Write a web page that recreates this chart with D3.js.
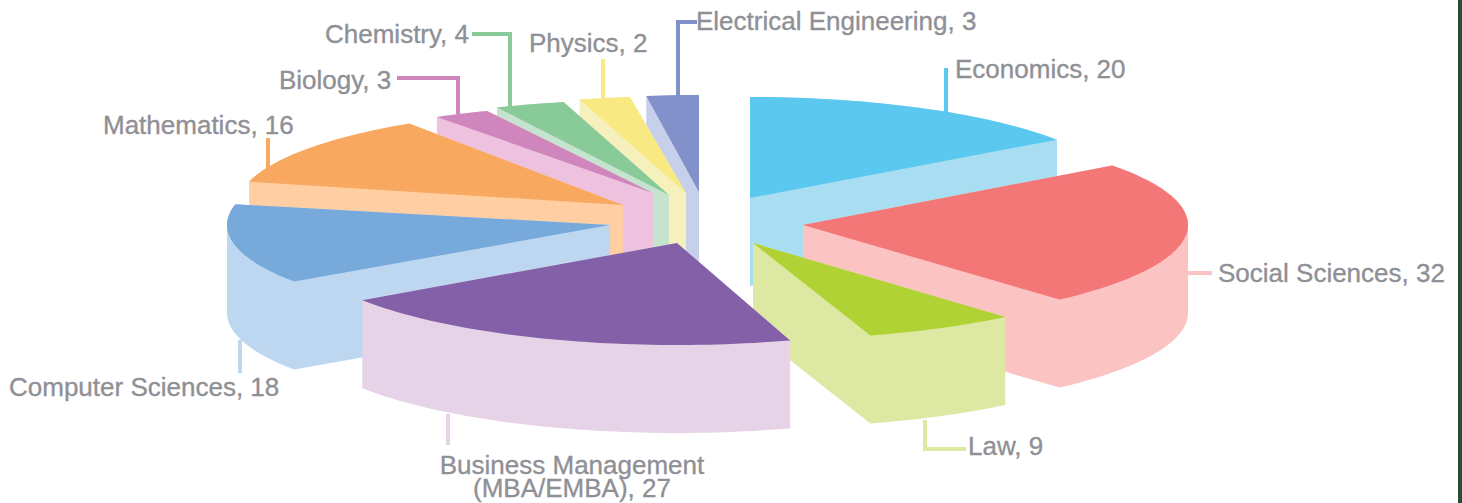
<!DOCTYPE html>
<html><head><meta charset="utf-8">
<script src="https://cdn.jsdelivr.net/npm/d3@7/dist/d3.min.js"></script>
<style>html,body{margin:0;padding:0;background:#fff;overflow:hidden}svg{display:block}</style>
</head><body>
<svg id="c" width="1462" height="503"></svg>
<script>
// ---- data ----
const categories = ["Economics","Social Sciences","Law","Business Management (MBA/EMBA)","Computer Sciences","Mathematics","Biology","Chemistry","Physics","Electrical Engineering"];
const values = [20,32,9,27,18,16,3,4,2,3];
const topColors = ["#5BC8F0","#F47777","#B0D235","#8360A8","#78A9DB","#F9A85F","#CE86BC","#88CB98","#F9E983","#8291C9"];
const wallColors = ["#A9DEF2","#FCC3C3","#DDE8A3","#E6D3E7","#BED7F0","#FFCFA3","#EEC2DF","#C5E3CF","#F6F0BD","#C6D0EA"];

// ---- layout: how far each slice is pulled from the pie centre, its projected radii and small angle corrections ----
const centre = {x:700, y:220}, depth = 88;
const pullX = [50,103,53,-23,-90,-77,-47,-31,-14,-1];
const pullY = [-22,5,23,23,5,-15,-27,-25,-27,-28];
const radX = [376,385,390,380,383,385,405,420,400,376];
const radY = [101,100,97,102,100,98,90,96,97,97];
const startNudgeDeg = [0,-0.3,0,-1.2,-0.9,-1,0,0,-2,0];
const endNudgeDeg = [1,-1.5,-1.4,-0.5,-2.8,-1.5,0,-1.1,0,0];
const labelLines = [["Economics, 20"],["Social Sciences, 32"],["Law, 9"],["Business Management","(MBA/EMBA), 27"],["Computer Sciences, 18"],["Mathematics, 16"],["Biology, 3"],["Chemistry, 4"],["Physics, 2"],["Electrical Engineering, 3"]];
const labelX = [955,1218,968,572,9,103,279,325,529,696];
const labelY = [77.5,282,455,474,396,133.5,88.5,42.5,51.5,30];
const labelLineStep = 23;
const labelAnchor = ["start","start","start","middle","start","start","start","start","start","start"];
const leaders = [
  [[946,68],[946,112]],
  [[1186,273],[1212,273]],
  [[925,420],[925,449],[966,449]],
  [[448,414],[448,445]],
  [[240,340],[240,373]],
  [[268,138],[268,172]],
  [[397,78],[458,78],[458,114]],
  [[472,34],[510,34],[510,107]],
  [[603,59],[603,98]],
  [[697,22],[678,22],[678,96]]
];
const leaderUsesWall = [false,true,true,true,true,false,false,false,false,false];

const svg = d3.select("#c");
const pie = d3.pie().value(d=>d).sort(null);
const slices = pie(values);
const rad = Math.PI/180;

const line = d3.line();
const paint = [0,9,8,7,6,5,4,1,2,3];
paint.forEach(i=>{
  const s = slices[i];
  const a0 = s.startAngle+startNudgeDeg[i]*rad, a1 = s.endAngle+endNudgeDeg[i]*rad;
  const ax = centre.x+pullX[i], ay = centre.y+pullY[i];
  const toPt = a=>[ax+radX[i]*Math.sin(a), ay-radY[i]*Math.cos(a)];
  const n = Math.max(6,Math.ceil((a1-a0)*40));
  const arcPts = d3.range(n+1).map(k=>toPt(a0+(a1-a0)*k/n));
  const top = [[ax,ay],...arcPts];
  const hull = d3.polygonHull(top.concat(top.map(p=>[p[0],p[1]+depth])));
  svg.append("path").attr("d",line(hull)+"Z").attr("fill",wallColors[i]);
  svg.append("path").attr("d",line(top)+"Z").attr("fill",topColors[i]);
});

leaders.forEach((pts,i)=>{
  svg.append("path").attr("d",line(pts)).attr("fill","none")
    .attr("stroke",leaderUsesWall[i]?wallColors[i]:topColors[i]).attr("stroke-width",4);
});

labelLines.forEach((ls,i)=>{
  ls.forEach((t,j)=>{
    svg.append("text").attr("x",labelX[i]).attr("y",labelY[i]+j*labelLineStep)
      .attr("text-anchor",labelAnchor[i])
      .attr("font-family","'Liberation Sans',Arial,sans-serif").attr("font-size",26)
      .attr("fill","#8F9096").attr("stroke","#8F9096").attr("stroke-width",0.35).text(t);
  });
});

svg.append("rect").attr("x",1458).attr("y",0).attr("width",4).attr("height",503).attr("fill","#2C4A36");
</script>
</body></html>
